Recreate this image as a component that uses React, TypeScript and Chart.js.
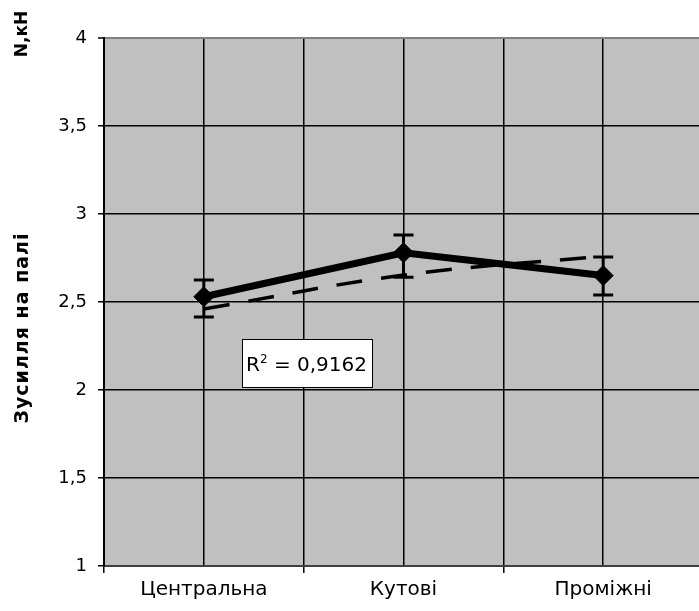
import { useEffect, useRef } from 'react';
import { Chart, registerables } from 'chart.js';

Chart.register(...registerables);

const categories = ['Центральна', 'Кутові', 'Проміжні'];
const forceValues = [2.53, 2.78, 2.65];
const errorUpper = [2.625, 2.88, 2.755];
const errorLower = [2.415, 2.64, 2.54];
const trendValues = [2.46, 2.653, 2.76];
const yMin = 1;
const yMax = 4;
const yStep = 0.5;
const rSquaredValue = '0,9162';
const yTitle = 'Зусилля на палі';
const yUnit = 'N,кН';

const FONT = '"DejaVu Sans", sans-serif';

const plotBackground = {
  id: 'plotBackground',
  beforeDraw(chart: any) {
    const { ctx, chartArea } = chart;
    ctx.save();
    ctx.fillStyle = '#ffffff';
    ctx.fillRect(0, 0, chart.width, chart.height);
    ctx.fillStyle = '#c0c0c0';
    ctx.fillRect(chartArea.left, chartArea.top, chartArea.right - chartArea.left, chartArea.bottom - chartArea.top);
    ctx.restore();
  },
};

const errorBars = {
  id: 'errorBars',
  afterDatasetsDraw(chart: any) {
    const { ctx, scales } = chart;
    const xs = scales.x;
    const ys = scales.y;
    ctx.save();
    ctx.strokeStyle = '#000';
    ctx.lineWidth = 3;
    categories.forEach((_, i) => {
      const x = xs.getPixelForValue(i + 1);
      const yt = ys.getPixelForValue(errorUpper[i]);
      const yb = ys.getPixelForValue(errorLower[i]);
      ctx.beginPath();
      ctx.moveTo(x, yt);
      ctx.lineTo(x, yb);
      ctx.moveTo(x - 10, yt);
      ctx.lineTo(x + 10, yt);
      ctx.moveTo(x - 10, yb);
      ctx.lineTo(x + 10, yb);
      ctx.stroke();
    });
    ctx.restore();
  },
};

const annotations = {
  id: 'annotations',
  afterDraw(chart: any) {
    const { ctx } = chart;
    ctx.save();
    ctx.fillStyle = '#000';
    ctx.textAlign = 'center';
    ctx.textBaseline = 'middle';
    ctx.save();
    ctx.font = `bold 19px ${FONT}`;
    (ctx as any).letterSpacing = '1px';
    ctx.translate(23, 328);
    ctx.rotate(-Math.PI / 2);
    ctx.fillText(yTitle, 0, 0);
    ctx.restore();
    ctx.save();
    ctx.font = `bold 17px ${FONT}`;
    ctx.translate(23, 34);
    ctx.rotate(-Math.PI / 2);
    ctx.fillText(yUnit, 0, 0);
    ctx.restore();

    // R^2 box
    const bx = 242, by = 339, bw = 131, bh = 49;
    ctx.fillStyle = '#fff';
    ctx.fillRect(bx, by, bw, bh);
    ctx.strokeStyle = '#000';
    ctx.lineWidth = 1;
    ctx.strokeRect(bx + 0.5, by + 0.5, bw - 1, bh - 1);
    ctx.fillStyle = '#000';
    ctx.textAlign = 'left';
    ctx.textBaseline = 'alphabetic';
    const base = by + 32;
    let tx = bx + 4;
    ctx.font = `20px ${FONT}`;
    ctx.fillText('R', tx, base);
    tx += ctx.measureText('R').width;
    ctx.font = `12px ${FONT}`;
    ctx.fillText('2', tx, base - 8);
    tx += ctx.measureText('2').width;
    ctx.font = `20px ${FONT}`;
    ctx.fillText(' = ' + rSquaredValue, tx, base);
    ctx.restore();
  },
};

export default function App() {
  const ref = useRef<HTMLCanvasElement | null>(null);

  useEffect(() => {
    if (!ref.current) return;
    const chart = new Chart(ref.current, {
      type: 'line',
      data: {
        datasets: [
          {
            label: 'Зусилля',
            data: forceValues.map((v, i) => ({ x: i + 1, y: v })),
            borderColor: '#000',
            backgroundColor: '#000',
            borderWidth: 7,
            pointStyle: 'rectRot',
            pointRadius: 10,
            pointBorderWidth: 1,
            pointBackgroundColor: '#000',
            pointBorderColor: '#000',
            tension: 0,
            order: 1,
          },
          {
            label: 'Тренд',
            data: trendValues.map((v, i) => ({ x: i + 1, y: v })),
            borderColor: '#000',
            borderWidth: 3.5,
            borderDash: [26, 19],
            pointRadius: 0,
            tension: 0.4,
            order: 2,
          },
        ],
      },
      options: {
        responsive: false,
        maintainAspectRatio: false,
        animation: false,
        devicePixelRatio: 1,
        layout: { padding: { top: 38, left: 0, right: 17, bottom: 0 } },
        plugins: {
          legend: { display: false },
          tooltip: { enabled: false },
        },
        scales: {
          x: {
            type: 'linear',
            min: 0.5,
            max: 3.5,
            afterFit: (s: any) => { s.height = 45; },
            afterBuildTicks: (s: any) => {
              const t = [];
              for (let v = 0.5; v <= 3.5; v += 0.5) t.push({ value: v });
              s.ticks = t;
            },
            ticks: {
              autoSkip: false,
              maxRotation: 0,
              padding: 5,
              color: '#000',
              font: { family: FONT, size: 20 },
              callback: (v: any) => {
                const n = Number(v);
                return Number.isInteger(n) ? categories[n - 1] ?? '' : '';
              },
            },
            grid: {
              color: '#000',
              lineWidth: 1.5,
              tickLength: 7,
              tickColor: (c: any) => (Number.isInteger(c.tick?.value) ? 'rgba(0,0,0,0)' : '#000'),
              tickWidth: 1.5,
            },
            border: { color: '#404040', width: 2 },
          },
          y: {
            min: yMin,
            max: yMax,
            afterFit: (s: any) => { s.width = 104; },
            ticks: {
              stepSize: yStep,
              padding: 11,
              color: '#000',
              font: { family: FONT, size: 18 },
              callback: (v: any) => String(v).replace('.', ','),
            },
            grid: {
              color: (c: any) => (c.tick?.value === yMax ? '#808080' : '#000'),
              lineWidth: (c: any) => (c.tick?.value === yMax ? 2 : 1.5),
              tickLength: 6,
              tickColor: '#000',
              tickWidth: 1.5,
            },
            border: { color: '#000', width: 2 },
          },
        },
      },
      plugins: [plotBackground, errorBars, annotations],
    });
    return () => chart.destroy();
  }, []);

  return (
    <div style={{ position: 'fixed', left: 0, top: 0, width: 699, height: 611, overflow: 'hidden', background: '#fff' }}>
      <canvas ref={ref} width={720} height={611} style={{ display: 'block', width: 720, height: 611 }} />
    </div>
  );
}
